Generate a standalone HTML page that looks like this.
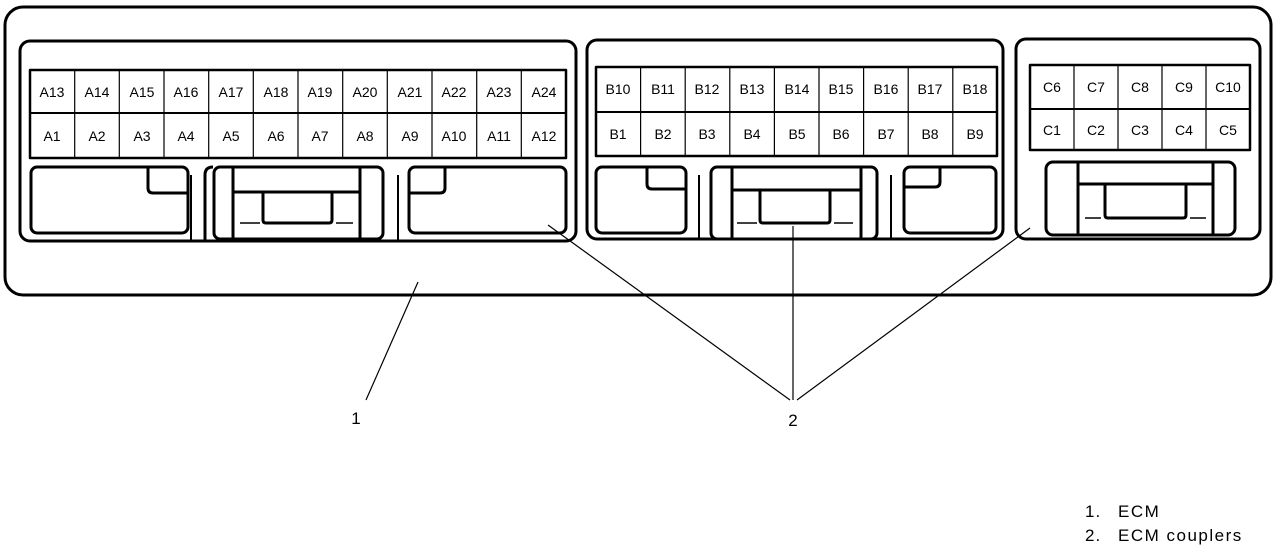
<!DOCTYPE html>
<html><head><meta charset="utf-8"><style>
html,body{margin:0;padding:0;background:#fff;width:1280px;height:548px;overflow:hidden}
svg{display:block}
text{font-family:"Liberation Sans",sans-serif;fill:#000}
.c{font-size:14px;text-anchor:middle}
</style></head><body>
<svg width="1280" height="548" viewBox="0 0 1280 548" xmlns="http://www.w3.org/2000/svg">
<g fill="none" stroke="#000" stroke-width="3" stroke-linejoin="round">
<rect x="5" y="7" width="1266" height="288" rx="18"/>
<rect x="20" y="41" width="556" height="200" rx="10"/>
<rect x="30" y="70" width="536" height="88" stroke-width="2.5"/>
<line x1="30" y1="113" x2="566" y2="113" stroke-width="2"/>
<rect x="31" y="167" width="157" height="66" rx="6"/>
<path d="M148 167 V188 Q148 193 153 193 H188"/>
<line x1="191" y1="175" x2="191" y2="241" stroke-width="2"/>
<path d="M205 241 V175 Q205 167 213 167"/>
<rect x="214" y="167" width="169" height="72" rx="6"/>
<line x1="233" y1="167" x2="233" y2="239"/>
<line x1="360" y1="167" x2="360" y2="239"/>
<line x1="233" y1="192" x2="360" y2="192"/>
<path d="M263 192 V220 Q263 223 266 223 H329 Q332 223 332 220 V192"/>
<line x1="240" y1="223" x2="260" y2="223" stroke-width="1.5"/>
<line x1="336" y1="223" x2="353" y2="223" stroke-width="1.5"/>
<line x1="398" y1="241" x2="398" y2="175" stroke-width="2"/>
<rect x="409" y="167" width="157" height="66" rx="6"/>
<path d="M409 193 H440 Q445 193 445 188 V167"/>
<rect x="587" y="40" width="416" height="199" rx="10"/>
<rect x="596" y="67" width="401" height="89" stroke-width="2.5"/>
<line x1="596" y1="112" x2="997" y2="112" stroke-width="2"/>
<rect x="596" y="167" width="90" height="66" rx="6"/>
<path d="M647 167 V184 Q647 189 652 189 H686"/>
<line x1="699" y1="239" x2="699" y2="175" stroke-width="2"/>
<rect x="711" y="167" width="166" height="72" rx="6"/>
<line x1="732" y1="167" x2="732" y2="239"/>
<line x1="861" y1="167" x2="861" y2="239"/>
<line x1="732" y1="190" x2="861" y2="190"/>
<path d="M760 190 V220 Q760 223 763 223 H827 Q830 223 830 220 V190"/>
<line x1="737" y1="223" x2="757" y2="223" stroke-width="1.5"/>
<line x1="834" y1="223" x2="853" y2="223" stroke-width="1.5"/>
<line x1="891" y1="239" x2="891" y2="175" stroke-width="2"/>
<rect x="904" y="167" width="92" height="66" rx="6"/>
<path d="M904 187 H935 Q940 187 940 182 V167"/>
<rect x="1016" y="39" width="244" height="200" rx="10"/>
<rect x="1030" y="65" width="220" height="85" stroke-width="2.5"/>
<line x1="1030" y1="109" x2="1250" y2="109" stroke-width="2"/>
<rect x="1046" y="162" width="189" height="73" rx="7"/>
<line x1="1078" y1="162" x2="1078" y2="235"/>
<line x1="1213" y1="162" x2="1213" y2="235"/>
<line x1="1078" y1="184" x2="1213" y2="184"/>
<path d="M1105 184 V215 Q1105 218 1108 218 H1183 Q1186 218 1186 215 V184"/>
<line x1="1085" y1="218" x2="1101" y2="218" stroke-width="1.5"/>
<line x1="1190" y1="218" x2="1206" y2="218" stroke-width="1.5"/>
</g>
<g stroke="#000" stroke-width="1.2">
<line x1="74.7" y1="70" x2="74.7" y2="158"/><line x1="119.3" y1="70" x2="119.3" y2="158"/><line x1="164" y1="70" x2="164" y2="158"/><line x1="208.7" y1="70" x2="208.7" y2="158"/><line x1="253.3" y1="70" x2="253.3" y2="158"/><line x1="298" y1="70" x2="298" y2="158"/><line x1="342.7" y1="70" x2="342.7" y2="158"/><line x1="387.3" y1="70" x2="387.3" y2="158"/><line x1="432" y1="70" x2="432" y2="158"/><line x1="476.7" y1="70" x2="476.7" y2="158"/><line x1="521.3" y1="70" x2="521.3" y2="158"/>
<line x1="640.6" y1="67" x2="640.6" y2="156"/><line x1="685.2" y1="67" x2="685.2" y2="156"/><line x1="729.8" y1="67" x2="729.8" y2="156"/><line x1="774.4" y1="67" x2="774.4" y2="156"/><line x1="819" y1="67" x2="819" y2="156"/><line x1="863.6" y1="67" x2="863.6" y2="156"/><line x1="908.2" y1="67" x2="908.2" y2="156"/><line x1="952.8" y1="67" x2="952.8" y2="156"/>
<line x1="1074" y1="65" x2="1074" y2="150"/><line x1="1118" y1="65" x2="1118" y2="150"/><line x1="1162" y1="65" x2="1162" y2="150"/><line x1="1206" y1="65" x2="1206" y2="150"/>
<line x1="418" y1="282" x2="366" y2="400"/>
<line x1="548" y1="225" x2="790" y2="400"/>
<line x1="793" y1="226" x2="793" y2="400"/>
<line x1="1030" y1="228" x2="797" y2="400"/>
</g>
<g class="c">
<text x="52" y="97">A13</text><text x="97" y="97">A14</text><text x="142" y="97">A15</text><text x="186" y="97">A16</text><text x="231" y="97">A17</text><text x="276" y="97">A18</text><text x="320" y="97">A19</text><text x="365" y="97">A20</text><text x="410" y="97">A21</text><text x="454" y="97">A22</text><text x="499" y="97">A23</text><text x="544" y="97">A24</text>
<text x="52" y="141">A1</text><text x="97" y="141">A2</text><text x="142" y="141">A3</text><text x="186" y="141">A4</text><text x="231" y="141">A5</text><text x="276" y="141">A6</text><text x="320" y="141">A7</text><text x="365" y="141">A8</text><text x="410" y="141">A9</text><text x="454" y="141">A10</text><text x="499" y="141">A11</text><text x="544" y="141">A12</text>
<text x="618" y="94">B10</text><text x="663" y="94">B11</text><text x="707" y="94">B12</text><text x="752" y="94">B13</text><text x="797" y="94">B14</text><text x="841" y="94">B15</text><text x="886" y="94">B16</text><text x="930" y="94">B17</text><text x="975" y="94">B18</text>
<text x="618" y="139">B1</text><text x="663" y="139">B2</text><text x="707" y="139">B3</text><text x="752" y="139">B4</text><text x="797" y="139">B5</text><text x="841" y="139">B6</text><text x="886" y="139">B7</text><text x="930" y="139">B8</text><text x="975" y="139">B9</text>
<text x="1052" y="92">C6</text><text x="1096" y="92">C7</text><text x="1140" y="92">C8</text><text x="1184" y="92">C9</text><text x="1228" y="92">C10</text>
<text x="1052" y="135">C1</text><text x="1096" y="135">C2</text><text x="1140" y="135">C3</text><text x="1184" y="135">C4</text><text x="1228" y="135">C5</text>
</g>
<text x="356" y="424" font-size="17" text-anchor="middle">1</text>
<text x="793" y="426" font-size="17" text-anchor="middle">2</text>
<text x="1085" y="517" font-size="17" letter-spacing="1">1.</text>
<text x="1118" y="517" font-size="17" letter-spacing="1.5">ECM</text>
<text x="1085" y="541" font-size="17" letter-spacing="1">2.</text>
<text x="1118" y="541" font-size="17" letter-spacing="1.5">ECM couplers</text>
</svg>
</body></html>
